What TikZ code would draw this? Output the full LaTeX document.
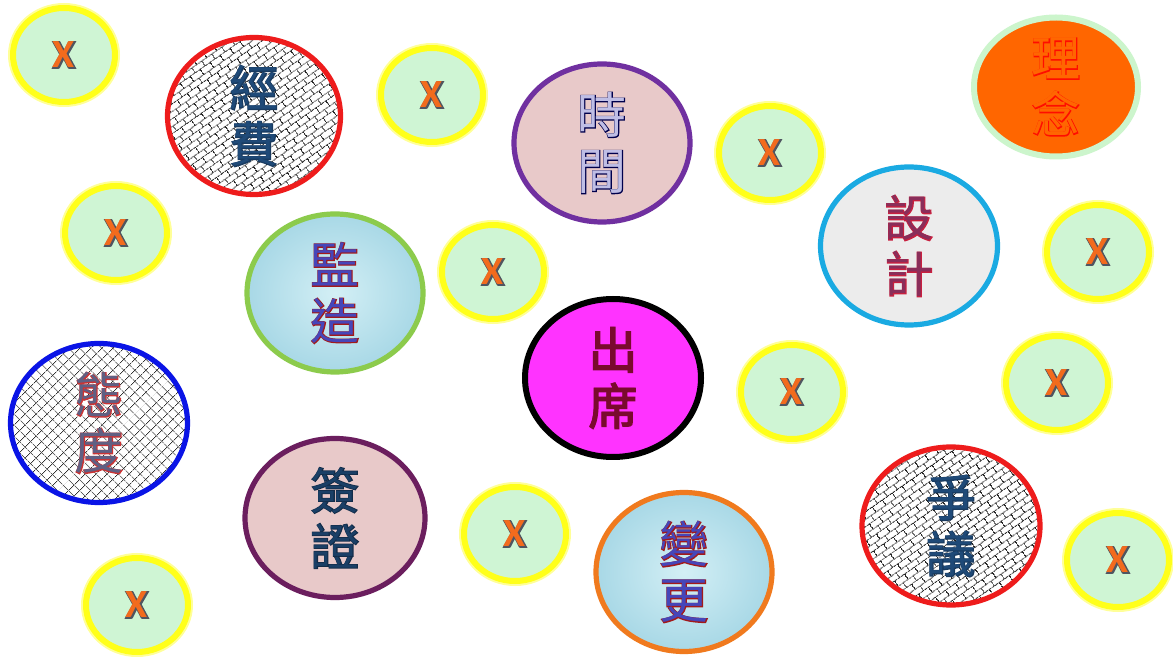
\documentclass[tikz,border=0pt]{standalone}
\usepackage{fontspec}
\usetikzlibrary{shapes.geometric,patterns,patterns.meta}
\newfontfamily\cjk{Noto Sans CJK TC}
\newfontfamily\cjkol[FakeBold=3]{Noto Sans CJK TC}
\newfontfamily\xfb{Carlito Bold}
\newfontfamily\xfbol[FakeBold=5]{Carlito Bold}
\definecolor{xyellow}{HTML}{FFFF1A}
\definecolor{xmint}{HTML}{CFF5D4}
\definecolor{xorange}{HTML}{F26B1D}
\definecolor{xdark}{HTML}{505560}
\definecolor{navy}{HTML}{1F4A78}
\definecolor{pinkfill}{HTML}{E8C9C9}
\definecolor{waterin}{HTML}{D3EFF5}
\definecolor{waterout}{HTML}{A8D8E6}
\definecolor{granite}{HTML}{ECECEC}
\definecolor{bdgreen}{HTML}{8CCB4C}
\definecolor{bdpurple}{HTML}{7030A0}
\definecolor{bdplum}{HTML}{6B1E5E}
\definecolor{bdsky}{HTML}{1AAAE2}
\definecolor{bdorange}{HTML}{F07A1E}
\definecolor{bdred}{HTML}{EE1C1C}
\definecolor{bdblue}{HTML}{0A14E6}
\definecolor{magfill}{HTML}{FF33FF}
\definecolor{orfill}{HTML}{FF6600}
\definecolor{lgreen}{HTML}{CCF5CC}
\definecolor{crimsonol}{HTML}{C8203F}
\definecolor{crimsonfill}{HTML}{8A2E5A}
\definecolor{darkred}{HTML}{7A0A2E}
\newcommand{\olt}[3]{\makebox[0pt]{\color{#1}\cjkol #3}\makebox[0pt]{\color{#2}\cjk #3}}
\newcommand{\xmark}{\makebox[0pt]{\color{xdark}\xfbol X}\makebox[0pt]{\color{xorange}\xfb X}}
\tikzdeclarepattern{
  name=dbricks,
  type=uncolored,
  bounding box={(0pt,0pt) and (6pt,6pt)},
  tile size={(6pt,6pt)},
  tile transformation={rotate=35},
  code={
    \tikzset{x=1pt,y=1pt}
    \draw[line width=0.45pt] (0,1.5) -- (6,1.5) (0,4.5) -- (6,4.5)
      (1,1.5) -- (1,4.5) (4,4.5) -- (4,6) (4,0) -- (4,1.5);
  }
}
\tikzset{
  xc/.style={ellipse, minimum width=51pt, minimum height=47pt, inner sep=0pt,
    draw=xyellow, line width=3pt, fill=xmint,
    preaction={draw=xyellow!45, line width=5pt},
    font=\fontsize{20}{22}\selectfont},
  big/.style={ellipse, minimum width=88pt, minimum height=79pt, inner sep=0pt,
    line width=2.6pt, align=center, font=\fontsize{24.5}{28}\selectfont},
  bricky/.style={preaction={fill=white}, pattern=dbricks, pattern color=black!85},
  hatchy/.style={preaction={fill=white},
    preaction={pattern={Lines[angle=45,distance=4pt,line width=0.35pt]}, pattern color=black!80},
    pattern={Lines[angle=-45,distance=4pt,line width=0.35pt]}, pattern color=black!80},
  watery/.style={inner color=waterin, outer color=waterout}
}
\begin{document}
\begin{tikzpicture}[x=0.5pt,y=-0.5pt]
\useasboundingbox[fill=white] (0,0) rectangle (1173,657);
% small circles
\node[xc] (x1) at (64,55) {\xmark};
\node[xc] (x2) at (432,95) {\xmark};
\node[xc] (x3) at (770,153) {\xmark};
\node[xc] (x4) at (116,233) {\xmark};
\node[xc] (x5) at (493,272) {\xmark};
\node[xc] (x6) at (1098,252) {\xmark};
\node[xc] (x7) at (1057,383) {\xmark};
\node[xc] (x8) at (792,392) {\xmark};
\node[xc] (x9) at (515,534) {\xmark};
\node[xc] (x10) at (137,605) {\xmark};
\node[xc] (x11) at (1118,560) {\xmark};
% big circles
\node[big, bricky, draw=bdred, minimum width=86.5pt, minimum height=78.5pt] (jingfei) at (254,116)
  {\olt{navy!80!black}{navy}{經}\\\olt{navy!80!black}{navy}{費}};
\node[big, fill=pinkfill, draw=bdpurple] (shijian) at (602,143)
  {\olt{black!70!blue}{cyan!20!blue!25!white}{時}\\\olt{black!70!blue}{cyan!20!blue!25!white}{間}};
\node[big, watery, draw=bdgreen] (jianzao) at (335,293)
  {\olt{red!60!black!90}{blue!45!gray}{監}\\\olt{red!60!black!90}{blue!45!gray}{造}};
\node[big, fill=granite, draw=bdsky, minimum width=88.5pt] (sheji) at (909,246)
  {\olt{crimsonol}{crimsonfill}{設}\\\olt{crimsonol}{crimsonfill}{計}};
\node[big, fill=magfill, draw=black, line width=3pt] (chuxi) at (613,378)
  {\olt{darkred}{darkred}{出}\\\olt{darkred}{darkred}{席}};
\node[big, hatchy, draw=bdblue, minimum width=88.5pt, minimum height=79.5pt] (taidu) at (99,423)
  {\olt{red!60!gray}{black!45!blue!25!gray}{態}\\\olt{red!60!gray}{black!45!blue!25!gray}{度}};
\node[big, fill=pinkfill, draw=bdplum, minimum width=90pt, minimum height=79.5pt] (qianzheng) at (335,518)
  {\olt{navy!60!black}{navy!85!black}{簽}\\\olt{navy!60!black}{navy!85!black}{證}};
\node[big, watery, draw=bdorange, minimum height=79.5pt] (biangeng) at (684,572)
  {\olt{red!60!black!90}{blue!45!gray}{變}\\\olt{red!60!black!90}{blue!45!gray}{更}};
\node[big, bricky, draw=bdred, minimum width=89pt] (zhengyi) at (951,526)
  {\olt{navy!80!black}{navy}{爭}\\\olt{navy!80!black}{navy}{議}};
\node[big, fill=orfill, draw=lgreen, line width=3pt, minimum width=82pt, minimum height=69.5pt] (linian) at (1056,87)
  {\olt{red!90!orange}{orfill}{理}\\\olt{red!90!orange}{orfill}{念}};
\end{tikzpicture}
\end{document}
